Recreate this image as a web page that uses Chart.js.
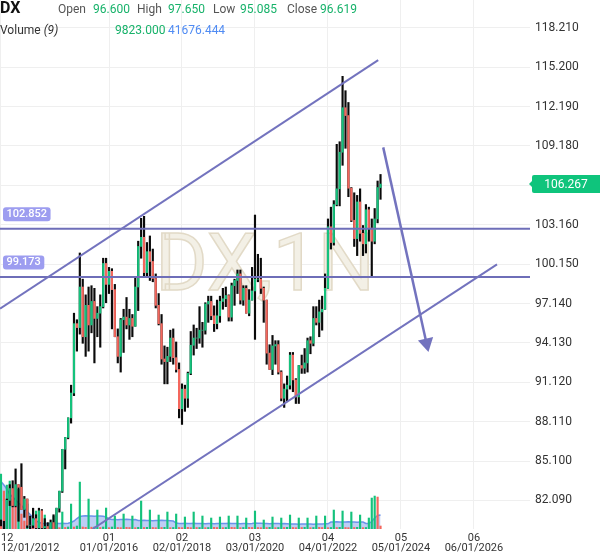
<!DOCTYPE html>
<html>
<head>
<meta charset="utf-8">
<script src="https://cdn.jsdelivr.net/npm/chart.js@4.4.1/dist/chart.umd.min.js"></script>
<style>
  html, body { margin: 0; padding: 0; background: #fff; }
  #wrap { position: relative; width: 600px; height: 558px; overflow: hidden; }
  #myChart { position: absolute; left: 0; top: 0; }
  .hdr { position: absolute; font-family: Roboto, sans-serif; font-size: 12px; line-height: 14px; white-space: nowrap; color: #555; }
  .g { color: #17b26a; }
  .b { color: #4f8bf3; }
</style>
</head>
<body>
<div id="wrap">
  <canvas id="myChart" width="600" height="558"></canvas>
  <div class="hdr" style="left:0;top:-1px;font-size:16px;line-height:18px;font-weight:bold;color:#111">DX</div>
  <div class="hdr" style="left:58px;top:2px">Open</div>
  <div class="hdr g" style="left:93px;top:2px">96.600</div>
  <div class="hdr" style="left:137px;top:2px">High</div>
  <div class="hdr g" style="left:168px;top:2px">97.650</div>
  <div class="hdr" style="left:213px;top:2px">Low</div>
  <div class="hdr g" style="left:240px;top:2px">95.085</div>
  <div class="hdr" style="left:287px;top:2px">Close</div>
  <div class="hdr g" style="left:320px;top:2px">96.619</div>
  <div class="hdr" style="left:0;top:23px;color:#333">Volume <i>(9)</i></div>
  <div class="hdr g" style="left:115px;top:23px">9823.000</div>
  <div class="hdr b" style="left:168px;top:23px">41676.444</div>
</div>
<script>
// monthly bars, index 0 = 12/2012
const opens = [80.1,79.8,79.2,82.1,83.0,81.7,83.3,83.1,81.4,82.2,
  80.2,80.2,80.7,80.0,81.3,80.0,80.1,79.5,80.4,79.8,
  81.5,82.8,86.0,86.9,88.4,90.3,95.6,95.3,98.4,94.6,
  97.0,95.5,97.3,96.0,96.4,96.9,100.2,98.6,99.6,98.2,
  94.6,93.1,95.9,96.1,95.5,96.0,95.4,98.4,101.5,102.2,
  99.5,101.1,100.35,99.05,97.0,95.6,92.9,92.7,93.1,94.5,
  93.0,92.1,89.1,90.6,89.9,91.8,93.95,94.5,94.5,95.1,
  95.1,97.1,97.3,96.2,95.6,96.2,97.3,97.5,97.75,96.1,
  98.5,98.9,99.4,97.4,98.3,96.4,97.4,98.1,99.0,99.0,
  98.3,97.4,93.35,92.1,93.9,94.0,91.9,89.9,90.6,90.9,
  93.2,91.3,90.0,92.4,92.2,92.6,94.3,94.1,96.0,95.7,
  96.5,96.7,98.3,103.0,101.8,104.7,105.9,108.7,112.1,111.5,
  105.95,103.5,102.1,104.9,102.5,101.7,104.3,102.9,101.9,103.6,
  106.0];
const highs = [80.6,80.5,82.2,83.3,83.6,84.5,83.3,84.9,82.4,82.2,
  80.9,81.5,81.0,81.5,81.4,80.7,80.4,80.6,81.0,81.5,
  82.8,86.0,86.9,88.4,90.9,96.4,95.9,101.0,99.0,97.8,
  98.4,98.5,98.3,96.9,97.8,100.6,100.6,99.9,99.8,98.6,
  95.2,96.0,96.7,97.6,96.7,96.3,99.1,101.9,103.65,103.8,
  101.8,102.3,101.3,99.4,97.9,96.3,93.9,93.8,95.1,95.2,
  94.2,92.6,91.0,90.9,91.9,95.0,95.5,95.25,96.9,95.7,
  97.2,97.7,97.7,96.96,97.4,97.7,98.3,98.4,97.8,98.7,
  99.0,99.7,99.7,98.5,98.5,98.2,99.9,103.9,100.9,100.6,
  98.4,97.4,93.99,94.7,94.3,94.3,92.0,91.0,91.6,93.4,
  93.4,91.4,92.4,93.2,93.7,94.5,94.6,96.9,96.9,97.4,
  97.7,99.4,103.6,104.5,105.0,109.3,109.5,114.5,113.4,112.5,
  106.0,105.6,105.4,105.9,103.1,104.7,104.5,103.6,104.4,106.5,
  107.0];
const lows = [79.0,79.2,79.0,81.7,81.6,81.6,80.5,81.4,80.8,80.0,
  79.0,80.0,79.8,79.9,79.8,79.3,79.1,78.9,79.8,79.7,
  81.2,82.7,84.5,86.8,88.0,90.1,93.5,94.8,94.1,93.1,
  93.5,94.9,92.6,94.6,93.8,96.8,97.2,97.9,95.2,94.6,
  92.6,91.9,93.4,95.2,94.4,94.6,95.4,96.6,100.6,99.2,
  99.2,98.9,98.8,96.8,95.5,92.5,91.0,91.0,92.7,92.5,
  91.9,88.4,87.9,88.9,89.2,91.7,93.2,93.7,94.1,93.8,
  94.8,95.7,95.9,95.0,95.2,95.7,96.7,96.9,95.8,95.8,
  97.0,97.9,97.1,97.0,96.4,96.2,97.4,94.4,98.8,97.9,
  95.7,92.5,92.1,91.7,92.5,91.75,89.7,89.2,89.7,90.6,
  90.4,89.5,89.5,91.8,91.8,91.9,93.3,93.9,95.5,94.6,
  95.1,96.7,98.3,101.3,101.6,104.6,104.6,107.7,109.0,105.3,
  103.4,101.5,100.8,101.9,100.8,101.0,101.9,99.17,101.7,103.3,
  105.1];
const closes = [79.8,79.2,82.1,83.0,81.7,83.3,83.1,81.4,82.2,80.2,
  80.2,80.7,80.0,81.3,80.0,80.1,79.5,80.4,79.8,81.5,
  82.8,86.0,86.9,88.4,90.3,95.6,95.3,98.4,94.6,97.0,
  95.5,97.3,96.0,96.4,96.9,100.2,98.6,99.6,98.2,94.6,
  93.1,95.9,96.1,95.5,96.0,95.4,98.4,101.5,102.2,99.5,
  101.1,100.35,99.05,97.0,95.6,92.9,92.7,93.1,94.5,93.0,
  92.1,89.1,90.6,89.9,91.8,93.95,94.5,94.5,95.1,95.1,
  97.1,97.3,96.2,95.6,96.2,97.3,97.5,97.75,96.1,98.5,
  98.9,99.4,97.4,98.3,96.4,97.4,98.1,99.0,99.0,98.3,
  97.4,93.35,92.1,93.9,94.0,91.9,89.9,90.6,90.9,93.2,
  91.3,90.0,92.4,92.2,92.6,94.3,94.1,96.0,95.7,96.5,
  96.7,98.3,103.0,101.8,104.7,105.9,108.7,112.1,111.5,105.95,
  103.5,102.1,104.9,102.5,101.7,104.3,102.9,101.9,103.6,106.0,
  106.267];
// volume in thousands of contracts
const volumeK = [330,228,264,288,180,132,240,90,48,150,
  24,18,108,12,14,84,10,12,78,9,
  8,102,9,12,150,12,18,282,12,10,
  180,11,12,114,9,12,126,8,12,78,
  9,8,90,10,9,78,8,10,168,9,
  10,114,9,8,84,9,10,102,8,9,
  90,9,8,72,10,8,102,9,9,78,
  8,9,66,10,9,72,8,9,78,10,
  9,78,8,9,66,10,9,108,9,8,
  54,9,10,72,8,9,66,9,10,84,
  9,8,66,9,10,66,8,9,78,10,
  9,78,8,9,114,9,10,108,9,8,
  102,9,10,84,8,9,66,186,198,192,
  18];
const volumeMaK = [285,264,240,210,192,174,156,141,123,105,
  87,69,51,39,34,33,32,33,33,34,
  33,34,33,35,39,48,63,75,78,79,
  78,78,77,78,78,76,72,60,57,57,
  56,57,57,58,57,56,57,51,51,52,
  51,51,50,51,51,52,51,51,50,48,
  36,33,33,34,33,33,34,33,33,33,
  32,33,33,32,33,33,33,33,34,33,
  33,33,32,33,33,32,33,36,35,34,
  33,33,32,33,33,33,32,33,32,30,
  30,30,29,30,30,30,30,29,30,30,
  30,31,31,42,42,43,42,42,42,43,
  42,42,41,42,42,33,33,45,66,81,
  84];
const tickMonths = [0, 37, 62, 87, 112, 137, 162];
const tickMonthNames = ['12', '01', '02', '03', '04', '05', '06'];
const tickDates = ['12/01/2012', '01/01/2016', '02/01/2018', '03/01/2020', '04/01/2022', '05/01/2024', '06/01/2026'];
const yTicks = [82.09, 85.10, 88.11, 91.12, 94.13, 97.14, 100.15, 103.16, 106.17, 109.18, 112.19, 115.20, 118.21];
const levelValues = [102.852, 99.173];
const lastPrice = 106.267;
// drawn trend lines, in (month, price)
const upperChannel = [{x: -0.34, y: 96.75}, {x: 129.2, y: 115.74}];
const lowerChannel = [{x: 31.37, y: 79.91}, {x: 169.9, y: 100.13}];
const arrowPath = [{x: 130.92, y: 109.07}, {x: 145.75, y: 94.11}];

const xMin = -0.34, xMax = 181.2;
const yMin = 79.91, yMax = 120.33;

const up = '#14c27c';
const down = '#f4675d';
const drawColor = '#7373be';

const months = opens.map((_, i) => i);
const wicks = months.map((m, i) => ({x: m, y: [lows[i], highs[i]]}));
const bodies = months.map((m, i) => ({x: m, y: [Math.min(opens[i], closes[i]), Math.max(opens[i], closes[i])]}));
const bodyColors = months.map(i => closes[i] >= opens[i] ? up : down);
const vols = months.map((m, i) => ({x: m, y: volumeK[i]}));
const volColors = months.map(i => (i === 0 || volumeK[i] >= volumeK[i - 1]) ? up : down);
const volMa = months.map((m, i) => ({x: m, y: volumeMaK[i]}));

const watermark = {
    id: 'watermark',
    beforeDatasetsDraw(chart) {
        const ctx = chart.ctx;
        ctx.save();
        ctx.font = '80px Roboto';
        ctx.textAlign = 'center';
        ctx.textBaseline = 'alphabetic';
        ctx.fillStyle = 'rgba(242,238,227,0.9)';
        ctx.strokeStyle = 'rgba(226,218,199,1)';
        ctx.lineWidth = 1.5;
        ctx.fillText('DX,1N', 265, 290);
        ctx.strokeText('DX,1N', 265, 290);
        ctx.restore();
    }
};

const priceTags = {
    id: 'priceTags',
    afterDraw(chart) {
        const ctx = chart.ctx;
        const y = chart.scales.y;
        ctx.save();
        ctx.font = '500 11px Roboto';
        ctx.textBaseline = 'middle';
        levelValues.forEach(v => {
            const py = y.getPixelForValue(v);
            const txt = v.toFixed(3);
            const w = ctx.measureText(txt).width;
            ctx.fillStyle = '#9d9df0';
            ctx.beginPath();
            ctx.roundRect(3, py - 21.5, w + 7, 14, 3);
            ctx.fill();
            ctx.fillStyle = '#fff';
            ctx.fillText(txt, 6.5, py - 14.5);
        });
        // last price box on the axis
        const lp = y.getPixelForValue(lastPrice);
        const left = chart.chartArea.right + 2;
        ctx.fillStyle = '#0fc47c';
        ctx.beginPath();
        ctx.moveTo(left - 3, lp);
        ctx.lineTo(left + 1, lp - 4);
        ctx.lineTo(left + 1, lp + 4);
        ctx.closePath();
        ctx.fill();
        ctx.beginPath();
        ctx.roundRect(left, lp - 9, 70, 18, 2);
        ctx.fill();
        ctx.font = '12px Roboto';
        ctx.fillStyle = '#fff';
        ctx.textAlign = 'center';
        ctx.fillText(lastPrice.toFixed(3), left + 34, lp + 0.5);
        ctx.restore();
    }
};

const ctx = document.getElementById('myChart');
new Chart(ctx, {
    type: 'bar',
    data: {
        datasets: [{
            type: 'line',
            data: arrowPath,
            borderColor: drawColor,
            borderWidth: 2.5,
            pointStyle: 'triangle',
            pointRadius: [0, 9],
            pointRotation: [0, 167.5],
            pointBackgroundColor: drawColor,
            pointBorderWidth: 0,
            order: 0
        }, {
            type: 'line',
            data: upperChannel,
            borderColor: drawColor,
            borderWidth: 2,
            pointRadius: 0,
            order: 1
        }, {
            type: 'line',
            data: lowerChannel,
            borderColor: drawColor,
            borderWidth: 2,
            pointRadius: 0,
            order: 1
        }, {
            type: 'line',
            data: [{x: xMin, y: levelValues[0]}, {x: xMax, y: levelValues[0]}],
            borderColor: '#6e6eb8',
            borderWidth: 2,
            pointRadius: 0,
            order: 1
        }, {
            type: 'line',
            data: [{x: xMin, y: levelValues[1]}, {x: xMax, y: levelValues[1]}],
            borderColor: '#6e6eb8',
            borderWidth: 2,
            pointRadius: 0,
            order: 1
        }, {
            label: 'body',
            data: bodies,
            backgroundColor: bodyColors,
            barThickness: 1.5,
            grouped: false,
            order: 2
        }, {
            label: 'wick',
            data: wicks,
            backgroundColor: '#0a0a0a',
            barThickness: 1.5,
            grouped: false,
            order: 3
        }, {
            label: 'volume',
            data: vols,
            yAxisID: 'yv',
            backgroundColor: volColors,
            barThickness: 1.5,
            grouped: false,
            order: 4
        }, {
            type: 'line',
            label: 'Volume (9)',
            data: volMa,
            yAxisID: 'yv',
            borderColor: '#6b93ea',
            borderWidth: 1.5,
            backgroundColor: 'rgba(110,145,232,0.45)',
            fill: 'origin',
            pointRadius: 0,
            order: 5
        }]
    },
    options: {
        responsive: false,
        animation: false,
        events: [],
        layout: { padding: 0, autoPadding: false },
        plugins: {
            legend: { display: false },
            tooltip: { enabled: false }
        },
        scales: {
            x: {
                type: 'linear',
                min: xMin,
                max: xMax,
                offset: false,
                afterBuildTicks: (s) => {
                    s.ticks = tickMonths.map(v => ({value: v})).concat([{value: xMax}]);
                },
                afterFit: (s) => {
                    s.height = 29;
                    s.paddingLeft = 0;
                    s.paddingRight = 0;
                },
                ticks: {
                    autoSkip: false,
                    maxRotation: 0,
                    align: 'inner',
                    padding: 4,
                    color: '#333',
                    font: { family: 'Roboto', size: 11, lineHeight: 0.95 },
                    callback: (value, index) => index < tickMonths.length ? [tickMonthNames[index], tickDates[index]] : ''
                },
                grid: {
                    offset: false,
                    drawTicks: false,
                    color: (c) => (c.tick && c.tick.value > 170) ? 'rgba(0,0,0,0)' : '#efefef'
                },
                border: { display: false }
            },
            y: {
                position: 'right',
                min: yMin,
                max: yMax,
                afterBuildTicks: (s) => {
                    s.ticks = yTicks.map(v => ({value: v}));
                },
                afterFit: (s) => {
                    s.width = 70;
                    s.paddingTop = 0;
                    s.paddingBottom = 0;
                },
                ticks: {
                    padding: 5,
                    color: '#333',
                    font: { family: 'Roboto', size: 12 },
                    callback: (value) => value.toFixed(3)
                },
                grid: { drawTicks: false, color: '#efefef' },
                border: { display: false }
            },
            yv: {
                display: false,
                min: 0,
                max: 3180
            }
        }
    },
    plugins: [watermark, priceTags]
});
</script>
</body>
</html>
